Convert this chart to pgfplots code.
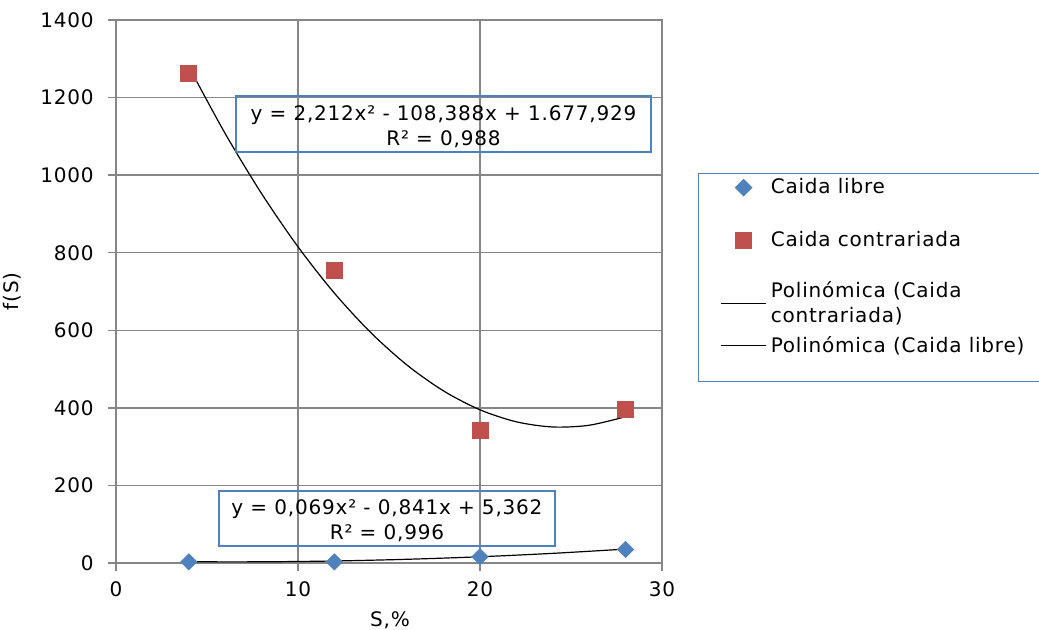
\documentclass[border=0pt]{standalone}
\usepackage{fontspec}
\setmainfont[LetterSpace=4]{DejaVu Sans}
\usepackage{pgfplots}
\pgfplotsset{compat=1.18}
\definecolor{gridgray}{RGB}{134,134,134}
\definecolor{cblue}{RGB}{79,129,189}
\definecolor{cred}{RGB}{192,80,77}
\definecolor{boxblue}{RGB}{79,129,189}
\pgfplotsset{
  markleg/.style={legend image code/.code={\path[draw=none,fill=none] (0pt,0pt) -- (22.5pt,0pt); \draw[##1, only marks] plot coordinates {(11.25pt,0pt)};}},
  lineleg/.style={legend image code/.code={\draw[##1] (0pt,0pt) -- (22.5pt,0pt);}},
}
\begin{document}
\begin{tikzpicture}[font=\fontsize{10pt}{12.5pt}\selectfont]
\begin{axis}[
  scale only axis, width=273pt, height=271.5pt,
  xmin=0, xmax=30, ymin=0, ymax=1400,
  xtick={0,10,20,30}, ytick={0,200,400,600,800,1000,1200,1400},
  grid=major, grid style={gridgray, line width=0.75pt},
  axis line style={gridgray, line width=0.75pt},
  tick pos=left, tick align=outside, major tick length=4pt,
  tick style={gridgray, line width=0.75pt},
  /pgf/number format/assume math mode=true,
  /pgf/number format/1000 sep={},
  scaled ticks=false,
  yticklabel style={anchor=east, inner sep=0pt, xshift=-7pt},
  xticklabel style={anchor=north, inner sep=0pt, yshift=-5pt},
  xlabel={S,\%}, ylabel={f(S)},
  x label style={at={(axis description cs:0.5018,-0.105)}, anchor=center},
  y label style={at={(axis description cs:-0.1905,0.5)}, anchor=center},
  legend cell align=left,
  legend style={at={(axis description cs:1.0659,0.7182)}, anchor=north west,
    draw=boxblue, line width=0.6pt, inner xsep=11pt, inner ysep=0.5pt,
    row sep=0pt, column sep=0pt, nodes={inner xsep=2pt, inner ysep=0pt},
    font=\fontsize{10pt}{12.5pt}\selectfont},
]
\addplot[only marks, color=cblue, mark=square*, mark size=2.83pt,
  mark options={rotate=45, fill=cblue, draw=cblue}, markleg]
  coordinates {(4,3) (12,3) (20,16) (28,35)};
\addlegendentry[minimum height=13pt]{Caida libre}
\addplot[only marks, color=cred, mark=square*, mark size=4pt,
  mark options={fill=cred, draw=cred}, markleg]
  coordinates {(4,1262) (12,755) (20,343) (28,397)};
\addlegendentry[minimum height=40pt]{Caida contrariada}
\addplot[black, line width=0.6pt, smooth, no marks, lineleg]
  coordinates {(4,1279.8) (6,1107.2) (8,952.4) (10,815.3) (12,695.8) (14,594.0) (16,510.0) (18,443.6) (20,395.0) (22,364.0) (24,350.7) (26,355.2) (28,377.3)};
\addlegendentry[minimum height=22.5pt, align=left]{Polinómica (Caida\\contrariada)}
\addplot[black, line width=0.6pt, smooth, no marks, lineleg]
  coordinates {(4,3.1) (8,3.1) (12,5.2) (16,9.6) (20,16.1) (24,24.9) (28,35.9)};
\addlegendentry[minimum height=20pt]{Polinómica (Caida libre)}
\addlegendimage{empty legend}
\addlegendentry[minimum height=7.5pt]{\mbox{}}
\node[draw=boxblue, line width=0.6pt, minimum width=207.5pt, minimum height=28pt, inner sep=0pt]
  at (rel axis cs:0.5998,0.8085) {};
\node[align=center, inner sep=0pt, yshift=-1.5pt]
  at (rel axis cs:0.5998,0.8085) {y = 2,212x² - 108,388x + 1.677,929\\R² = 0,988};
\node[draw=boxblue, line width=0.6pt, minimum width=168pt, minimum height=27.5pt, inner sep=0pt]
  at (rel axis cs:0.4963,0.0820) {};
\node[align=center, inner sep=0pt, yshift=-1pt]
  at (rel axis cs:0.4963,0.0820) {y = 0,069x² - 0,841x + 5,362\\R² = 0,996};
\end{axis}
\pgfresetboundingbox
\path (-58pt,-33pt) rectangle (461.5pt,281.5pt);
\end{tikzpicture}
\end{document}
